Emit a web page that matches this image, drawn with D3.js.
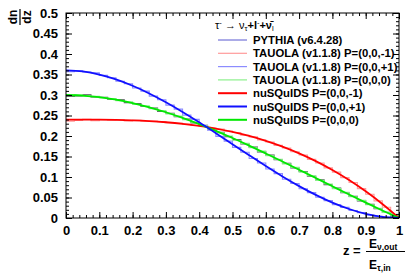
<!DOCTYPE html>
<html><head><meta charset="utf-8">
<script src="https://cdn.jsdelivr.net/npm/d3@7"></script>
<style>
html,body{margin:0;padding:0;background:#fff;}
svg{display:block;}
text{font-family:"Liberation Sans",Arial,sans-serif;}
</style></head>
<body>
<script>
// ---- data ----
const zGrid = [0,0.05,0.1,0.15,0.2,0.25,0.3,0.35,0.4,0.45,0.5,0.55,0.6,0.65,0.7,0.75,0.8,0.85,0.9,0.95,1];
const nuSQuIDSm1 = [.2400,.2400,.2398,.2392,.2381,.2363,.2335,.2297,.2246,.2181,.2100,.2001,.1882,.1741,.1577,.1388,.1171,.0926,.0650,.0342,0];
const nuSQuIDSp1 = [.3600,.3574,.3499,.3381,.3226,.3038,.2822,.2586,.2333,.2069,.1800,.1531,.1267,.1014,.0778,.0563,.0374,.0219,.0101,.0026,0];
const nuSQuIDS0  = [.3000,.2987,.2948,.2887,.2803,.2700,.2579,.2441,.2290,.2125,.1950,.1766,.1574,.1378,.1177,.0975,.0773,.0572,.0376,.0184,0];

const histLow = 0, histHigh = 1;
const tauolaM1 = [.2362,.2378,.2405,.2372,.2396,.2385,.2398,.2370,.2384,.2360,.2362,.2350,.2322,.2316,.2290,.2256,.2240,.2195,.2170,.2118,.2085,.2020,.1978,.1905,.1855,.1772,.1708,.1615,.1538,.1430,.1342,.1222,.1118,.0984,.0866,.0716,.0580,.0418,.0264,.0086];
const tauolaP1 = [.3568,.3590,.3562,.3540,.3478,.3422,.3335,.3275,.3170,.3095,.2972,.2885,.2752,.2655,.2510,.2405,.2255,.2142,.1990,.1876,.1722,.1605,.1452,.1340,.1195,.1083,.0944,.0842,.0715,.0620,.0506,.0424,.0326,.0258,.0182,.0130,.0075,.0042,.0013,.0002];
const tauola0  = [.2985,.3002,.2972,.2968,.2930,.2912,.2860,.2835,.2772,.2735,.2665,.2620,.2540,.2485,.2398,.2335,.2244,.2172,.2076,.2001,.1898,.1820,.1712,.1630,.1518,.1433,.1320,.1235,.1120,.1032,.0918,.0829,.0716,.0628,.0518,.0430,.0322,.0236,.0134,.0047];
const pythia   = [.2962,.2975,.3005,.2950,.2945,.2895,.2882,.2815,.2790,.2718,.2680,.2598,.2555,.2468,.2415,.2320,.2258,.2158,.2090,.1985,.1912,.1805,.1728,.1612,.1535,.1420,.1335,.1220,.1135,.1018,.0930,.0815,.0730,.0615,.0528,.0418,.0332,.0226,.0140,.0043];

const xTicks = [0,0.1,0.2,0.3,0.4,0.5,0.6,0.7,0.8,0.9,1];
const yTicks = [0,0.05,0.1,0.15,0.2,0.25,0.3,0.35,0.4,0.45,0.5];

const legendLabels = ["PYTHIA (v6.4.28)","TAUOLA (v1.1.8) P=(0,0,-1)","TAUOLA (v1.1.8) P=(0,0,+1)","TAUOLA (v1.1.8) P=(0,0,0)","nuSQuIDS P=(0,0,-1)","nuSQuIDS P=(0,0,+1)","nuSQuIDS P=(0,0,0)"];
const legendColors = ["#5858d0","#ff9a9a","#8c8cff","#8cf08c","#ff0000","#1010ff","#00e800"];
const legendWidths = [1,1.2,1.2,1.2,2,2,2];

// ---- chart ----
const W = 407, H = 280;
const svg = d3.select("body").append("svg").attr("width",W).attr("height",H);
svg.append("rect").attr("width",W).attr("height",H).attr("fill","#fff");

const x = d3.scaleLinear().domain([0,1]).range([66,399]);
const y = d3.scaleLinear().domain([0,0.5]).range([218,13]);

svg.append("defs").append("clipPath").attr("id","clip")
  .append("rect").attr("x",x(0)).attr("y",y(0.5)).attr("width",x(1)-x(0)).attr("height",y(0)-y(0.5));

const plot = svg.append("g").attr("clip-path","url(#clip)");

function histPath(vals){
  const n = vals.length, w = (histHigh-histLow)/n;
  const pts = vals.map((v,i)=>[histLow+i*w, v]);
  pts.push([histHigh, vals[n-1]]);
  return d3.line().x(d=>x(d[0])).y(d=>y(d[1])).curve(d3.curveStepAfter)(pts);
}
const hists = [[pythia,"#505058"],[tauolaM1,legendColors[1]],[tauolaP1,legendColors[2]],[tauola0,legendColors[3]]];
hists.forEach(([v,c])=>{
  plot.append("path").attr("d",histPath(v)).attr("fill","none").attr("stroke",c).attr("stroke-width",1.1);
});

const smooth = [[nuSQuIDSm1,legendColors[4]],[nuSQuIDS0,legendColors[6]],[nuSQuIDSp1,legendColors[5]]];
smooth.forEach(([v,c])=>{
  const line = d3.line().x((d,i)=>x(zGrid[i])).y(d=>y(d)).curve(d3.curveMonotoneX);
  plot.append("path").attr("d",line(v)).attr("fill","none").attr("stroke",c).attr("stroke-width",1.8);
});

// axes
const fmt = v => String(+v.toFixed(2));
const minorX = d3.range(0,1.0001,0.02);
const minorY = d3.range(0,0.5001,0.01);

function styleAxis(g){ g.select(".domain").remove(); g.selectAll("line").attr("stroke","#000"); }

svg.append("g").attr("transform",`translate(0,${y(0)})`)
  .call(d3.axisBottom(x).tickValues(xTicks).tickSize(-6).tickPadding(8).tickFormat(fmt))
  .call(styleAxis)
  .call(g=>g.selectAll("text").attr("font-size",13).attr("font-weight","bold").attr("fill","#000").attr("font-family","Liberation Sans, Arial, sans-serif"));
svg.append("g").attr("transform",`translate(0,${y(0)})`)
  .call(d3.axisBottom(x).tickValues(minorX).tickSize(-3).tickFormat(""))
  .call(styleAxis);
svg.append("g").attr("transform",`translate(0,${y(0.5)})`)
  .call(d3.axisTop(x).tickValues(xTicks).tickSize(-6).tickFormat(""))
  .call(styleAxis);
svg.append("g").attr("transform",`translate(0,${y(0.5)})`)
  .call(d3.axisTop(x).tickValues(minorX).tickSize(-3).tickFormat(""))
  .call(styleAxis);

svg.append("g").attr("transform",`translate(${x(0)},0)`)
  .call(d3.axisLeft(y).tickValues(yTicks).tickSize(-6).tickPadding(8).tickFormat(fmt))
  .call(styleAxis)
  .call(g=>g.selectAll("text").attr("font-size",13).attr("font-weight","bold").attr("fill","#000").attr("font-family","Liberation Sans, Arial, sans-serif"));
svg.append("g").attr("transform",`translate(${x(0)},0)`)
  .call(d3.axisLeft(y).tickValues(minorY).tickSize(-3).tickFormat(""))
  .call(styleAxis);
svg.append("g").attr("transform",`translate(${x(1)},0)`)
  .call(d3.axisRight(y).tickValues(yTicks).tickSize(-6).tickFormat(""))
  .call(styleAxis);
svg.append("g").attr("transform",`translate(${x(1)},0)`)
  .call(d3.axisRight(y).tickValues(minorY).tickSize(-3).tickFormat(""))
  .call(styleAxis);

svg.append("rect").attr("x",x(0)).attr("y",y(0.5)).attr("width",x(1)-x(0)).attr("height",y(0)-y(0.5))
  .attr("fill","none").attr("stroke","#000").attr("stroke-width",1);

// y title (rotated fraction)
const yt = svg.append("g").attr("transform","translate(20,17) rotate(-90)");
yt.append("text").attr("x",0).attr("y",-3).attr("text-anchor","middle").attr("font-size",12).attr("font-weight","bold").text("dn");
yt.append("text").attr("x",0).attr("y",11).attr("text-anchor","middle").attr("font-size",12).attr("font-weight","bold").text("dz");
yt.append("line").attr("x1",-8).attr("x2",8).attr("y1",0).attr("y2",0).attr("stroke","#000").attr("stroke-width",1.2);

// x title
svg.append("text").attr("x",343).attr("y",255).attr("font-size",13).attr("font-weight","bold").text("z =");
svg.append("line").attr("x1",366).attr("x2",405).attr("y1",251.5).attr("y2",251.5).attr("stroke","#000").attr("stroke-width",1.2);
const num = svg.append("text").attr("x",369).attr("y",247.5).attr("font-size",12).attr("font-weight","bold");
num.append("tspan").text("E");
num.append("tspan").attr("font-size",8.5).attr("dy",2.5).text("ν,out");
const den = svg.append("text").attr("x",369).attr("y",268.5).attr("font-size",12).attr("font-weight","bold");
den.append("tspan").text("E");
den.append("tspan").attr("font-size",8.5).attr("dy",2.5).text("τ,in");

// legend
const lt = svg.append("text").attr("x",215).attr("y",29).attr("font-size",11).attr("font-family","Liberation Serif, serif");
lt.append("tspan").text("τ");
lt.append("tspan").attr("font-size",7.5).attr("dy",-4).text("-");
lt.append("tspan").attr("dy",4).text(" → ν");
lt.append("tspan").attr("font-size",7.5).attr("dy",2).text("τ");
lt.append("tspan").attr("dy",-2).attr("font-weight","bold").text("+l");
lt.append("tspan").attr("font-size",7.5).attr("dy",-4).text("-");
lt.append("tspan").attr("dy",4).attr("font-weight","bold").text("+ν̄");
lt.append("tspan").attr("font-size",7.5).attr("dy",2).text("l");

legendLabels.forEach((lab,i)=>{
  const cy = 40 + i*13.3;
  svg.append("line").attr("x1",218).attr("x2",247).attr("y1",cy).attr("y2",cy)
    .attr("stroke",legendColors[i]).attr("stroke-width",legendWidths[i]);
  svg.append("text").attr("x",253).attr("y",cy+4).attr("font-size",11.3).attr("font-weight","bold").attr("fill","#000").text(lab);
});
</script>
</body></html>
